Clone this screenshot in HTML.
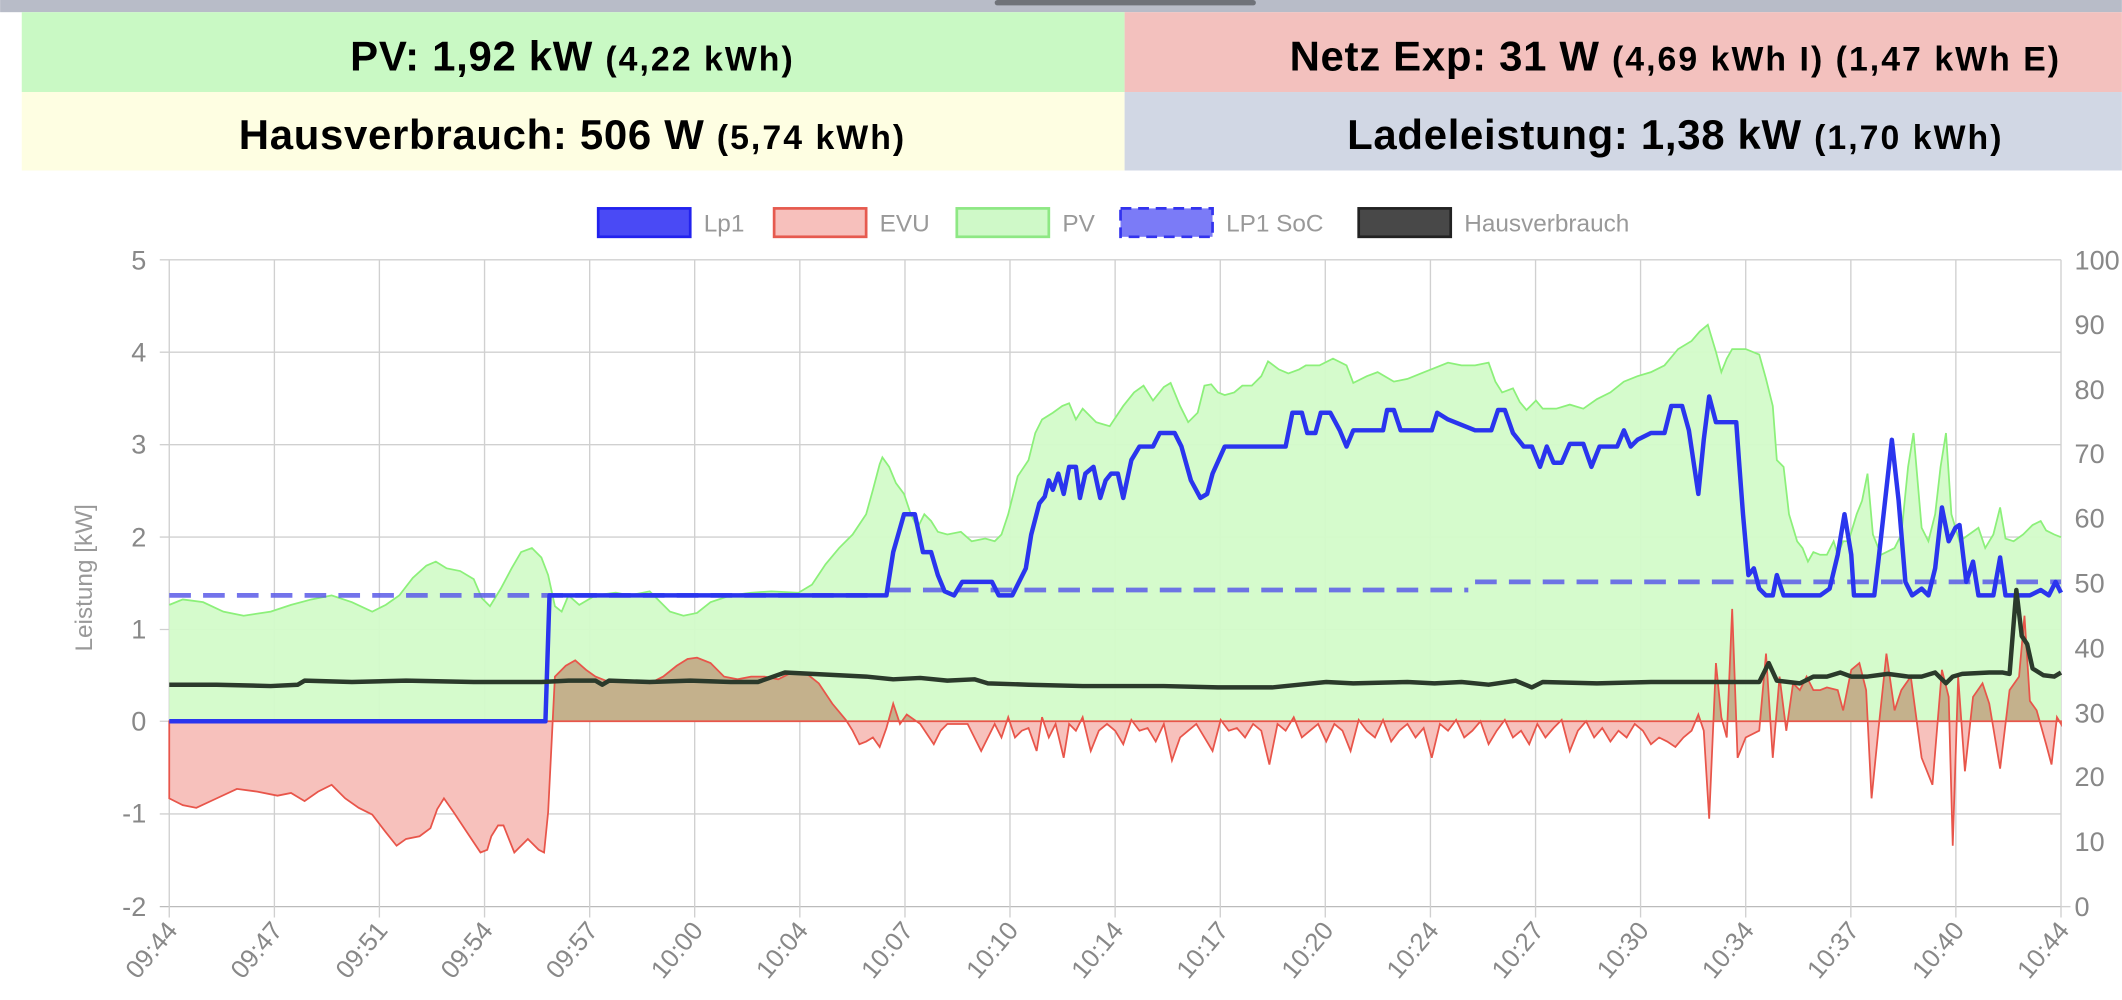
<!DOCTYPE html>
<html><head><meta charset="utf-8"><style>
html,body{margin:0;padding:0;background:#fff;width:2122px;height:1000px;overflow:hidden}
svg{display:block}
text{font-family:"Liberation Sans",sans-serif}
</style></head><body>
<svg width="2122" height="1000" viewBox="0 0 1568 739" xmlns="http://www.w3.org/2000/svg">
<defs>
<clipPath id="above"><rect x="125" y="150" width="1400" height="383"/></clipPath>
<clipPath id="below"><rect x="125" y="533" width="1400" height="200"/></clipPath>
</defs>
<rect x="0" y="0" width="1568" height="9" fill="#b8bcc8"/>
<rect x="735" y="0" width="193" height="4" rx="2" fill="#6f7279"/>
<rect x="16" y="9" width="815" height="59" fill="#c9f9c4"/>
<rect x="831" y="9" width="737" height="59" fill="#f3c1be"/>
<rect x="16" y="68" width="815" height="58" fill="#fefee2"/>
<rect x="831" y="68" width="737" height="58" fill="#d1d7e4"/>
<g font-weight="bold" fill="#000" text-anchor="middle">
<text x="423" y="52" font-size="31" letter-spacing="0.5">PV: 1,92 kW <tspan font-size="25" letter-spacing="1.5">(4,22 kWh)</tspan></text>
<text x="1238" y="52" font-size="31" letter-spacing="0.5">Netz Exp: 31 W <tspan font-size="25" letter-spacing="1.5">(4,69 kWh I) (1,47 kWh E)</tspan></text>
<text x="423" y="110" font-size="31" letter-spacing="0.5">Hausverbrauch: 506 W <tspan font-size="25" letter-spacing="1.5">(5,74 kWh)</tspan></text>
<text x="1238" y="110" font-size="31" letter-spacing="0.5">Ladeleistung: 1,38 kW <tspan font-size="25" letter-spacing="1.5">(1,70 kWh)</tspan></text>
</g>
<!-- legend -->
<g font-size="18" fill="#999">
<rect x="442" y="154" width="68" height="21" fill="#4a4af5" stroke="#2222ee" stroke-width="2"/><text x="520" y="171">Lp1</text>
<rect x="572" y="154" width="68" height="21" fill="#f7c0bc" stroke="#e65a4f" stroke-width="2"/><text x="650" y="171">EVU</text>
<rect x="707" y="154" width="68" height="21" fill="#cff9c8" stroke="#8ee884" stroke-width="2"/><text x="785" y="171">PV</text>
<rect x="828" y="154" width="68" height="21" fill="#7b7bf7" stroke="#3333ee" stroke-width="2" stroke-dasharray="8,5"/><text x="906" y="171">LP1 SoC</text>
<rect x="1004" y="154" width="68" height="21" fill="#484848" stroke="#222" stroke-width="2"/><text x="1082" y="171">Hausverbrauch</text>
</g>
<!-- grid -->
<g stroke="#d0d0d0" stroke-width="1">
<line x1="118" y1="192" x2="1523" y2="192"/><line x1="118" y1="260.3" x2="1523" y2="260.3"/><line x1="118" y1="328.6" x2="1523" y2="328.6"/><line x1="118" y1="396.9" x2="1523" y2="396.9"/><line x1="118" y1="465.2" x2="1523" y2="465.2"/><line x1="118" y1="533" x2="1523" y2="533"/><line x1="118" y1="601.5" x2="1523" y2="601.5"/><line x1="118" y1="670" x2="1523" y2="670" stroke="#bbb"/>
<line x1="125" y1="192" x2="125" y2="678"/><line x1="202.7" y1="192" x2="202.7" y2="678"/><line x1="280.3" y1="192" x2="280.3" y2="678"/><line x1="358" y1="192" x2="358" y2="678"/><line x1="435.7" y1="192" x2="435.7" y2="678"/><line x1="513.3" y1="192" x2="513.3" y2="678"/><line x1="591" y1="192" x2="591" y2="678"/><line x1="668.7" y1="192" x2="668.7" y2="678"/><line x1="746.3" y1="192" x2="746.3" y2="678"/><line x1="824" y1="192" x2="824" y2="678"/><line x1="901.7" y1="192" x2="901.7" y2="678"/><line x1="979.3" y1="192" x2="979.3" y2="678"/><line x1="1057" y1="192" x2="1057" y2="678"/><line x1="1134.7" y1="192" x2="1134.7" y2="678"/><line x1="1212.3" y1="192" x2="1212.3" y2="678"/><line x1="1290" y1="192" x2="1290" y2="678"/><line x1="1367.7" y1="192" x2="1367.7" y2="678"/><line x1="1445.3" y1="192" x2="1445.3" y2="678"/><line x1="1523" y1="192" x2="1523" y2="678"/>
<line x1="1523" y1="670" x2="1530" y2="670"/>
</g>
<!-- PV fill -->
<polygon fill="#d3fbc9" fill-opacity="0.95" points="125,533 125,447 135,443 150,445 165,452 180,455 200,452 215,447 230,443 245,440 260,445 275,452 285,447 295,440 305,427 315,418 322,415 330,420 340,422 350,428 356,442 362,448 370,435 378,420 385,408 393,405 400,412 405,425 410,448 415,452 420,440 428,447 440,440 455,438 465,440 475,438 480,437 488,445 495,452 505,455 515,453 525,445 540,440 555,438 570,437 590,438 600,432 610,417 620,405 630,395 640,380 645,362 650,343 652,338 657,345 662,357 668,365 673,380 678,390 683,380 688,385 693,393 700,395 710,393 718,400 728,398 735,400 740,395 745,380 752,352 760,340 765,320 770,310 778,305 785,300 790,298 795,310 800,302 810,312 820,315 830,300 838,290 845,285 852,296 860,286 865,283 872,300 878,312 885,305 890,285 895,284 900,290 905,292 912,290 918,285 925,285 932,278 937,267 945,273 952,276 960,273 965,270 975,270 985,265 995,270 1000,283 1010,278 1018,275 1030,282 1040,280 1050,276 1060,272 1070,268 1080,270 1090,270 1100,268 1105,282 1110,290 1118,287 1123,297 1128,303 1135,296 1140,302 1150,302 1160,299 1170,302 1180,295 1190,290 1200,282 1210,278 1220,275 1230,270 1240,258 1250,252 1256,245 1262,240 1268,260 1272,275 1276,265 1280,258 1290,258 1300,262 1305,280 1310,300 1313,340 1318,345 1322,380 1328,400 1332,405 1336,415 1340,408 1345,410 1350,410 1355,400 1358,410 1362,400 1366,400 1372,380 1376,370 1380,350 1384,395 1390,410 1400,405 1405,395 1410,345 1414,320 1420,390 1425,400 1430,380 1434,345 1438,320 1442,380 1448,400 1455,395 1462,390 1467,405 1473,395 1478,375 1482,398 1488,400 1495,395 1502,388 1508,385 1512,392 1518,395 1523,397 1523,533"/>
<g id="evu">
<polygon id="evup" points="125,533 125,590 135,595 145,597 160,590 175,583 190,585 205,588 215,586 225,592 235,585 245,580 255,590 265,597 275,602 285,615 293,625 300,620 310,618 318,612 323,598 328,590 335,600 345,615 355,630 360,628 363,618 368,610 372,610 380,630 390,620 398,628 402,630 405,600 410,500 418,492 425,488 433,495 440,500 450,504 460,503 470,503 480,505 490,500 500,492 508,487 515,486 525,490 535,500 545,502 555,500 565,500 575,502 585,497 595,497 605,505 615,520 625,532 630,540 635,550 640,548 645,545 650,552 655,538 660,520 665,535 670,528 680,535 690,550 695,540 700,535 708,535 715,535 720,545 725,555 730,545 735,535 740,545 745,530 750,545 755,540 760,538 766,555 770,530 775,545 780,535 786,560 790,535 795,540 800,530 806,555 812,540 818,535 824,540 830,550 836,532 842,540 848,538 854,548 860,535 866,562 872,545 878,540 884,535 890,545 896,555 902,532 908,540 914,538 920,545 926,535 932,540 938,565 944,535 950,540 956,530 962,545 968,540 974,535 980,548 986,535 992,540 998,555 1004,532 1010,540 1016,545 1022,532 1028,548 1034,540 1040,535 1046,545 1052,538 1058,560 1064,535 1070,540 1076,532 1082,545 1088,540 1094,533 1100,550 1106,540 1112,532 1118,545 1124,540 1130,550 1136,535 1142,545 1148,538 1154,532 1160,555 1166,540 1172,533 1178,545 1184,538 1190,548 1196,540 1202,545 1208,535 1214,540 1220,550 1226,545 1232,548 1238,552 1244,545 1250,540 1255,528 1259,540 1263,605 1268,490 1272,530 1276,545 1280,450 1284,560 1290,545 1300,540 1305,483 1310,560 1315,500 1320,540 1325,505 1330,510 1335,500 1340,510 1345,510 1350,508 1358,510 1362,525 1368,495 1374,490 1379,510 1383,590 1388,540 1394,483 1400,525 1405,510 1412,500 1420,560 1428,580 1435,495 1440,515 1443,625 1447,500 1452,570 1458,515 1465,505 1470,520 1478,568 1485,510 1492,500 1496,455 1500,518 1505,525 1512,550 1516,565 1520,530 1523,535 1523,533"/>
</g>
<use href="#evup" fill="#c4b18c" clip-path="url(#above)"/>
<use href="#evup" fill="#f7c1bc" clip-path="url(#below)"/>
<line x1="125" y1="533" x2="1523" y2="533" stroke="#b0b0b0" stroke-width="1"/>
<!-- PV line -->
<polyline fill="none" stroke="#8cf07a" stroke-width="1.3" points="125,447 135,443 150,445 165,452 180,455 200,452 215,447 230,443 245,440 260,445 275,452 285,447 295,440 305,427 315,418 322,415 330,420 340,422 350,428 356,442 362,448 370,435 378,420 385,408 393,405 400,412 405,425 410,448 415,452 420,440 428,447 440,440 455,438 465,440 475,438 480,437 488,445 495,452 505,455 515,453 525,445 540,440 555,438 570,437 590,438 600,432 610,417 620,405 630,395 640,380 645,362 650,343 652,338 657,345 662,357 668,365 673,380 678,390 683,380 688,385 693,393 700,395 710,393 718,400 728,398 735,400 740,395 745,380 752,352 760,340 765,320 770,310 778,305 785,300 790,298 795,310 800,302 810,312 820,315 830,300 838,290 845,285 852,296 860,286 865,283 872,300 878,312 885,305 890,285 895,284 900,290 905,292 912,290 918,285 925,285 932,278 937,267 945,273 952,276 960,273 965,270 975,270 985,265 995,270 1000,283 1010,278 1018,275 1030,282 1040,280 1050,276 1060,272 1070,268 1080,270 1090,270 1100,268 1105,282 1110,290 1118,287 1123,297 1128,303 1135,296 1140,302 1150,302 1160,299 1170,302 1180,295 1190,290 1200,282 1210,278 1220,275 1230,270 1240,258 1250,252 1256,245 1262,240 1268,260 1272,275 1276,265 1280,258 1290,258 1300,262 1305,280 1310,300 1313,340 1318,345 1322,380 1328,400 1332,405 1336,415 1340,408 1345,410 1350,410 1355,400 1358,410 1362,400 1366,400 1372,380 1376,370 1380,350 1384,395 1390,410 1400,405 1405,395 1410,345 1414,320 1420,390 1425,400 1430,380 1434,345 1438,320 1442,380 1448,400 1455,395 1462,390 1467,405 1473,395 1478,375 1482,398 1488,400 1495,395 1502,388 1508,385 1512,392 1518,395 1523,397"/>
<use href="#evup" fill="none" stroke="#e8554a" stroke-width="1.3"/>
<!-- SoC dashed -->
<g stroke="#5a5ae8" stroke-opacity="0.85" stroke-width="3.5" stroke-dasharray="16,9" fill="none">
<line x1="125" y1="440" x2="650" y2="440"/><line x1="657" y1="436" x2="1085" y2="436"/><line x1="1090" y1="430" x2="1523" y2="430"/>
</g>
<!-- Lp1 -->
<polyline fill="none" stroke="#2a35ee" stroke-width="3.3" stroke-linejoin="round" points="125,533 403,533 406,440 655,440 660,408 668,380 676,380 682,408 688,408 693,425 698,437 705,440 711,430 720,430 733,430 738,440 748,440 758,420 762,395 768,372 772,367 775,355 778,362 782,350 786,365 790,345 795,345 798,368 802,350 808,345 813,368 817,355 821,350 826,350 830,368 836,340 842,330 852,330 857,320 868,320 873,330 880,355 887,368 892,365 896,350 905,330 950,330 955,305 962,305 966,320 972,320 976,305 983,305 990,318 995,330 1000,318 1022,318 1025,303 1030,303 1035,318 1058,318 1062,305 1070,310 1090,318 1102,318 1107,303 1112,303 1118,320 1126,330 1132,330 1138,345 1143,330 1148,342 1154,342 1160,328 1170,328 1176,345 1182,330 1195,330 1200,318 1205,330 1210,325 1220,320 1230,320 1235,300 1243,300 1248,318 1252,345 1255,365 1259,325 1263,293 1268,312 1283,312 1285,340 1288,380 1292,425 1296,420 1300,435 1305,440 1310,440 1313,425 1318,440 1345,440 1352,435 1358,410 1363,380 1368,410 1370,440 1385,440 1388,415 1393,370 1398,325 1403,370 1408,430 1413,440 1420,435 1425,440 1430,420 1435,375 1440,400 1445,390 1448,388 1453,430 1458,415 1462,440 1473,440 1478,412 1482,440 1500,440 1508,436 1514,440 1519,430 1523,438"/>
<!-- Hausverbrauch -->
<polyline fill="none" stroke="#2b3a2b" stroke-width="3.3" stroke-linejoin="round" points="125,506 160,506 200,507 220,506 225,503 260,504 300,503 350,504 400,504 420,503 440,503 445,506 450,503 480,504 510,503 540,504 560,504 580,497 600,498 620,499 640,500 660,502 680,501 700,503 720,502 730,505 760,506 800,507 830,507 860,507 900,508 940,508 960,506 980,504 1000,505 1040,504 1060,505 1080,504 1100,506 1120,503 1132,508 1140,504 1180,505 1220,504 1260,504 1300,504 1307,490 1313,503 1330,505 1340,500 1350,500 1360,497 1368,500 1380,500 1395,498 1410,500 1420,500 1430,497 1438,505 1443,500 1450,498 1470,497 1480,497 1485,498 1490,436 1494,470 1498,476 1502,494 1510,499 1518,500 1523,497"/>
<!-- axis labels -->
<g font-size="20" fill="#888" text-anchor="end">
<text x="108" y="199">5</text><text x="108" y="267">4</text><text x="108" y="335">3</text><text x="108" y="404">2</text><text x="108" y="472">1</text><text x="108" y="540">0</text><text x="108" y="608">-1</text><text x="108" y="677">-2</text>
</g>
<g font-size="20" fill="#888">
<text x="1533" y="677">0</text><text x="1533" y="629">10</text><text x="1533" y="581">20</text><text x="1533" y="534">30</text><text x="1533" y="486">40</text><text x="1533" y="438">50</text><text x="1533" y="390">60</text><text x="1533" y="342">70</text><text x="1533" y="295">80</text><text x="1533" y="247">90</text><text x="1533" y="199">100</text>
</g>
<text transform="translate(68,427) rotate(-90)" font-size="18" fill="#999" text-anchor="middle">Leistung [kW]</text>
<g font-size="19" fill="#888" text-anchor="end">
<text transform="translate(132,688) rotate(-50)">09:44</text>
<text transform="translate(209.7,688) rotate(-50)">09:47</text>
<text transform="translate(287.3,688) rotate(-50)">09:51</text>
<text transform="translate(365,688) rotate(-50)">09:54</text>
<text transform="translate(442.7,688) rotate(-50)">09:57</text>
<text transform="translate(520.3,688) rotate(-50)">10:00</text>
<text transform="translate(598,688) rotate(-50)">10:04</text>
<text transform="translate(675.7,688) rotate(-50)">10:07</text>
<text transform="translate(753.3,688) rotate(-50)">10:10</text>
<text transform="translate(831,688) rotate(-50)">10:14</text>
<text transform="translate(908.7,688) rotate(-50)">10:17</text>
<text transform="translate(986.3,688) rotate(-50)">10:20</text>
<text transform="translate(1064,688) rotate(-50)">10:24</text>
<text transform="translate(1141.7,688) rotate(-50)">10:27</text>
<text transform="translate(1219.3,688) rotate(-50)">10:30</text>
<text transform="translate(1297,688) rotate(-50)">10:34</text>
<text transform="translate(1374.7,688) rotate(-50)">10:37</text>
<text transform="translate(1452.3,688) rotate(-50)">10:40</text>
<text transform="translate(1530,688) rotate(-50)">10:44</text>
</g>
</svg>
</body></html>
